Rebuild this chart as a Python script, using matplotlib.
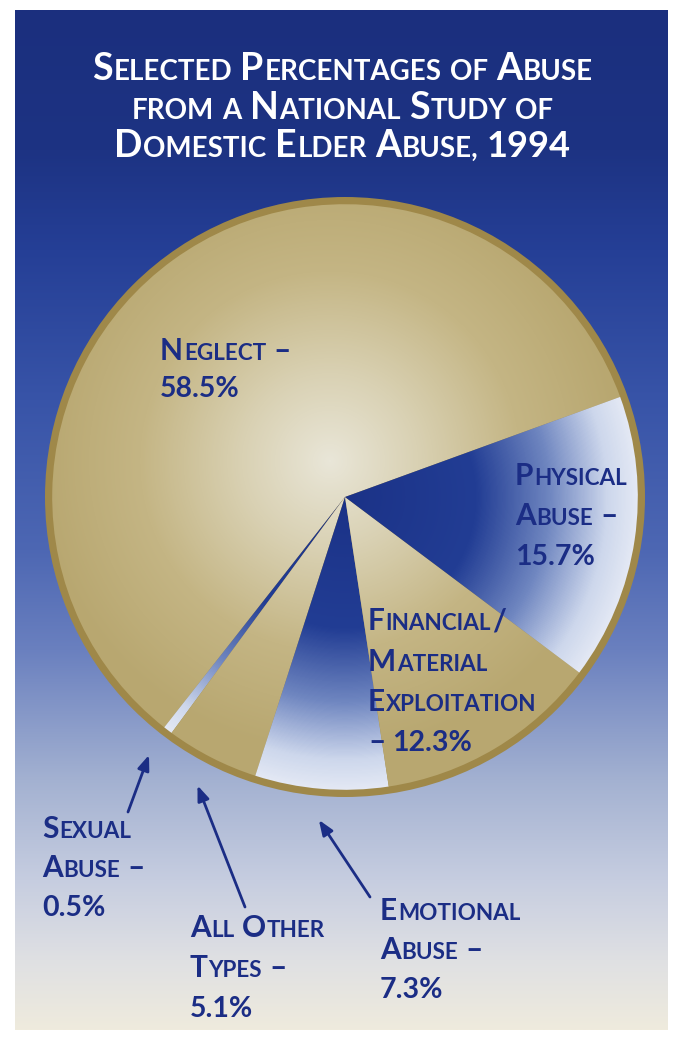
import matplotlib
matplotlib.use("Agg")
import matplotlib.pyplot as plt
import numpy as np
from matplotlib.colors import LinearSegmentedColormap, to_rgb
from matplotlib.patches import Circle
from matplotlib.transforms import IdentityTransform

# ---------------- data ----------------
categories = ["Neglect", "Sexual Abuse", "All Other Types", "Emotional Abuse",
              "Financial/Material Exploitation", "Physical Abuse"]
percentages = [58.5, 0.5, 5.1, 7.3, 12.3, 15.7]
slice_kind = ["gold", "blue", "gold", "blue", "gold", "blue"]

title_lines = ["Selected Percentages of Abuse",
               "from a National Study of",
               "Domestic Elder Abuse, 1994"]

label_text = {
    "Neglect": ["Neglect –", "{p}%"],
    "Physical Abuse": ["Physical", "Abuse –", "{p}%"],
    "Financial/Material Exploitation": ["Financial/", "Material", "Exploitation", "– {p}%"],
    "Sexual Abuse": ["Sexual", "Abuse –", "{p}%"],
    "All Other Types": ["All Other", "Types –", "{p}%"],
    "Emotional Abuse": ["Emotional", "Abuse –", "{p}%"],
}

# ---------------- layout / style ----------------
W, H = 675, 1053
NAVY = "#1b2d85"
FONT = "Lato"
fig = plt.figure(figsize=(W / 100, H / 100), dpi=100)
fig.patch.set_facecolor("white")

# background panel with vertical gradient
x0, x1, y0, y1 = 15, 668, 10, 1030
bg = fig.add_axes([x0 / W, 1 - y1 / H, (x1 - x0) / W, (y1 - y0) / H])
stops_y = [10, 150, 250, 400, 550, 650, 780, 880, 960, 1030]
stops_c = ["#1b2f7e", "#1d3383", "#253f96", "#3854a8", "#4d67b3", "#6a80bf",
           "#a3b1d1", "#c6cde0", "#dfe0e3", "#efebdd"]
ys = np.linspace(y0, y1, 800)
rgb = np.array([to_rgb(c) for c in stops_c])
grad = np.stack([np.interp(ys, stops_y, rgb[:, k]) for k in range(3)], axis=-1)
bg.imshow(grad[:, None, :], aspect="auto", extent=[0, 1, 0, 1], origin="upper")
bg.set_axis_off()

# pie axes
cx, cy, R = 345, 497, 300
ax = fig.add_axes([(cx - R) / W, 1 - (cy + R) / H, 2 * R / W, 2 * R / H])
ax.set_axis_off()
ax.add_patch(Circle((0, 0), 1.0, fc="#9f8849", ec="none", zorder=1))

r_in = 0.976
wedges, _ = ax.pie(percentages, radius=r_in, startangle=20, counterclock=True,
                   wedgeprops=dict(ec="none", fc="none"))

n = 600
gx, gy = np.meshgrid(np.linspace(-1, 1, n), np.linspace(-1, 1, n))
rr = np.clip(np.hypot(gx, gy) / r_in, 0, 1)
rg = np.clip(np.hypot(gx + 0.05, gy - 0.12) / r_in, 0, 1)
blue_cmap = LinearSegmentedColormap.from_list(
    "b", [(0, "#1b3287"), (0.45, "#223d94"), (0.7, "#6f86c0"), (0.9, "#cdd7ec"), (1, "#e3e8f4")])
gold_cmap = LinearSegmentedColormap.from_list(
    "g", [(0, "#e9e6d8"), (0.3, "#d9d1b3"), (0.65, "#c4b584"), (1, "#b8a770")])
for w, kind in zip(wedges, slice_kind):
    if kind == "blue":
        img = blue_cmap(rr)
    else:
        img = gold_cmap(rg)
    im = ax.imshow(img, extent=[-1, 1, -1, 1], origin="lower", zorder=2,
                   interpolation="bilinear")
    im.set_clip_path(w)
ax.set_xlim(-1, 1)
ax.set_ylim(-1, 1)
ax.set_aspect("auto")

# arrows for the small slices
arrow_tails = {"Sexual Abuse": (128, 812), "All Other Types": (245, 907),
               "Emotional Abuse": (370, 897)}
for w, cat in zip(wedges, categories):
    if cat in arrow_tails:
        mid = np.deg2rad((w.theta1 + w.theta2) / 2)
        tip = (1.08 * np.cos(mid), 1.08 * np.sin(mid))
        tx, ty = arrow_tails[cat]
        tail = ((tx - cx) / R, (cy - ty) / R)
        ax.annotate("", xy=tip, xytext=tail, annotation_clip=False,
                    arrowprops=dict(arrowstyle="-|>,head_length=0.9,head_width=0.35",
                                    mutation_scale=10, lw=2, color=NAVY,
                                    shrinkA=0, shrinkB=0))

# ---------------- small-caps text helper ----------------
renderer = fig.canvas.get_renderer()
PX = 100 / 72


def sc_line(x, ybase, s, big, small, num, color, ha="left"):
    tokens = []
    for ch in s:
        if ch == " ":
            tokens.append([" ", small])
            continue
        if ch.isalpha():
            size = big if ch.isupper() else small
            c = ch.upper()
        elif ch.isdigit() or ch in "%.":
            size = num
            c = ch
        elif ch == ",":
            size = small
            c = ch
        else:  # '/', dash
            size = big
            c = ch
        if tokens and tokens[-1][0] != " " and tokens[-1][1] == size:
            tokens[-1][0] += c
        else:
            tokens.append([c, size])
    items = []
    total = 0.0
    for txt, size in tokens:
        if txt == " ":
            wpx = size * PX * 0.27
            items.append((None, wpx))
        else:
            t = fig.text(0, 0, txt, fontsize=size, family=FONT, weight="bold",
                         color=color, va="baseline", ha="left",
                         transform=IdentityTransform())
            wpx = t.get_window_extent(renderer).width + 0.8
            items.append((t, wpx))
        total += wpx
    start = x - total / 2 if ha == "center" else x
    pos = start
    for t, wpx in items:
        if t is not None:
            t.set_position((pos, H - ybase))
        pos += wpx


# title
for line, yb in zip(title_lines, [80, 119, 157]):
    sc_line(343, yb, line, 27, 20, 26, "white", ha="center")

# labels
label_pos = {
    "Neglect": (160, [360, 397]),
    "Physical Abuse": (515, [485, 525, 565]),
    "Financial/Material Exploitation": (368, [630, 671, 711, 751]),
    "Sexual Abuse": (42, [838, 877, 916]),
    "All Other Types": (190, [937, 977, 1017]),
    "Emotional Abuse": (380, [920, 959, 998]),
}
for cat, pct in zip(categories, percentages):
    x, ybs = label_pos[cat]
    for line, yb in zip(label_text[cat], ybs):
        sc_line(x, yb, line.format(p=pct), 21.5, 16.2, 20.5, NAVY)

fig.savefig("out.png", dpi=100)
